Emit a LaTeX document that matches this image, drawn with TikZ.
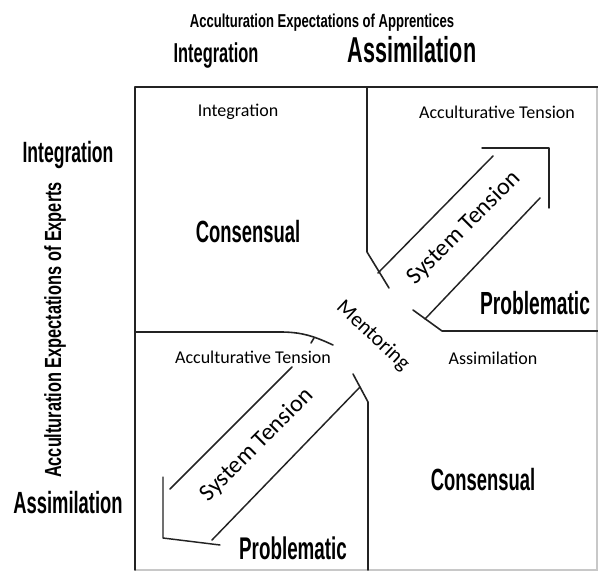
\documentclass[tikz,border=0pt]{standalone}
\usepackage{fontspec}
\setmainfont{Carlito}
\newfontfamily\headfont[FakeStretch=0.6]{Liberation Sans}
\newfontfamily\axisfont[FakeStretch=0.7]{Liberation Sans}
\usepackage{tikz}
\usetikzlibrary{positioning}
\definecolor{inkline}{RGB}{35,35,35}
\definecolor{paleline}{RGB}{200,200,200}

\begin{document}
\begin{tikzpicture}[x=0.75pt, y=-0.75pt,
    divider/.style={draw=inkline, line width=1.2pt, line cap=round, line join=round},
    band/.style={draw=inkline, line width=1.1pt, line cap=round, line join=round},
    bigword/.style={font=\headfont\bfseries\fontsize{#1}{#1}\selectfont, inner sep=0pt},
    bigword/.default=23,
    axisword/.style={font=\axisfont\bfseries\fontsize{#1}{#1}\selectfont, inner sep=0pt},
    cellword/.style={font=\fontsize{13.5}{13.5}\selectfont, inner sep=0pt},
    flowword/.style={font=\fontsize{#1}{#1}\selectfont, inner sep=0pt}]
    \useasboundingbox (0,0) rectangle (598,573);

    % The Frame
    \draw[draw=paleline, line width=1pt] (135,570) -- (597,570) -- (597,87);
    \draw[divider] (135,570) -- (135,87) -- (598,87);

    % The Quadrant Dividers (bent towards the middle)
    \draw[divider] (367,87) -- (367,252) -- (389,288);
    \draw[divider] (413,310) -- (442,331) -- (598,331);
    \draw[divider] (135,332) -- (280,332) to[out=0, in=155] (333,345);
    \draw[divider] (311,343) -- (314,338);
    \draw[divider] (353,374) -- (368,402) -- (368,570);

    % The System Tension Arrows
    \draw[band] (378,273) -- (493,156);
    \draw[band] (425,319) -- (540,198);
    \draw[band] (482,148) -- (549,148) -- (549,208);
    \draw[band] (170,489) -- (292,367);
    \draw[band] (212,540) -- (360,387);
    \draw[band] (163,477) -- (163,538) -- (220,545);

    % Axis Headings
    \node[axisword=14] (apprTitle) at (322,23) {Acculturation Expectations of Apprentices};
    \node[bigword=20.5] (apprInt) at (216,55) {Integration};
    \node[bigword=27] (apprAss) at (412,50) {Assimilation};
    \node[axisword=17.5, rotate=90] (expTitle) at (55,330) {Acculturation Expectations of Experts};
    \node[bigword=22] (expInt) at (68,155) {Integration};
    \node[bigword=23] (expAss) at (68,503) {Assimilation};

    % Cell Labels
    \node[cellword] (cellInt) at (238,112) {Integration};
    \node[cellword] (cellTenTop) at (497,112) {Acculturative Tension};
    \node[cellword] (cellTenBot) at (253,357) {Acculturative Tension};
    \node[cellword] (cellAss) at (493,358) {Assimilation};
    \node[bigword=23] (consTop) at (248,232) {Consensual};
    \node[bigword=24] (probTop) at (535,303) {Problematic};
    \node[bigword=23] (consBot) at (483,480) {Consensual};
    \node[bigword=23.5] (probBot) at (293,548) {Problematic};

    % Along the Diagonal
    \node[flowword=18, rotate=45] (sysTop) at (464,228) {System Tension};
    \node[flowword=18, rotate=45] (sysBot) at (257,445) {System Tension};
    \node[flowword=16, rotate=-43] (mentor) at (373,336) {Mentoring};
\end{tikzpicture}
\end{document}
